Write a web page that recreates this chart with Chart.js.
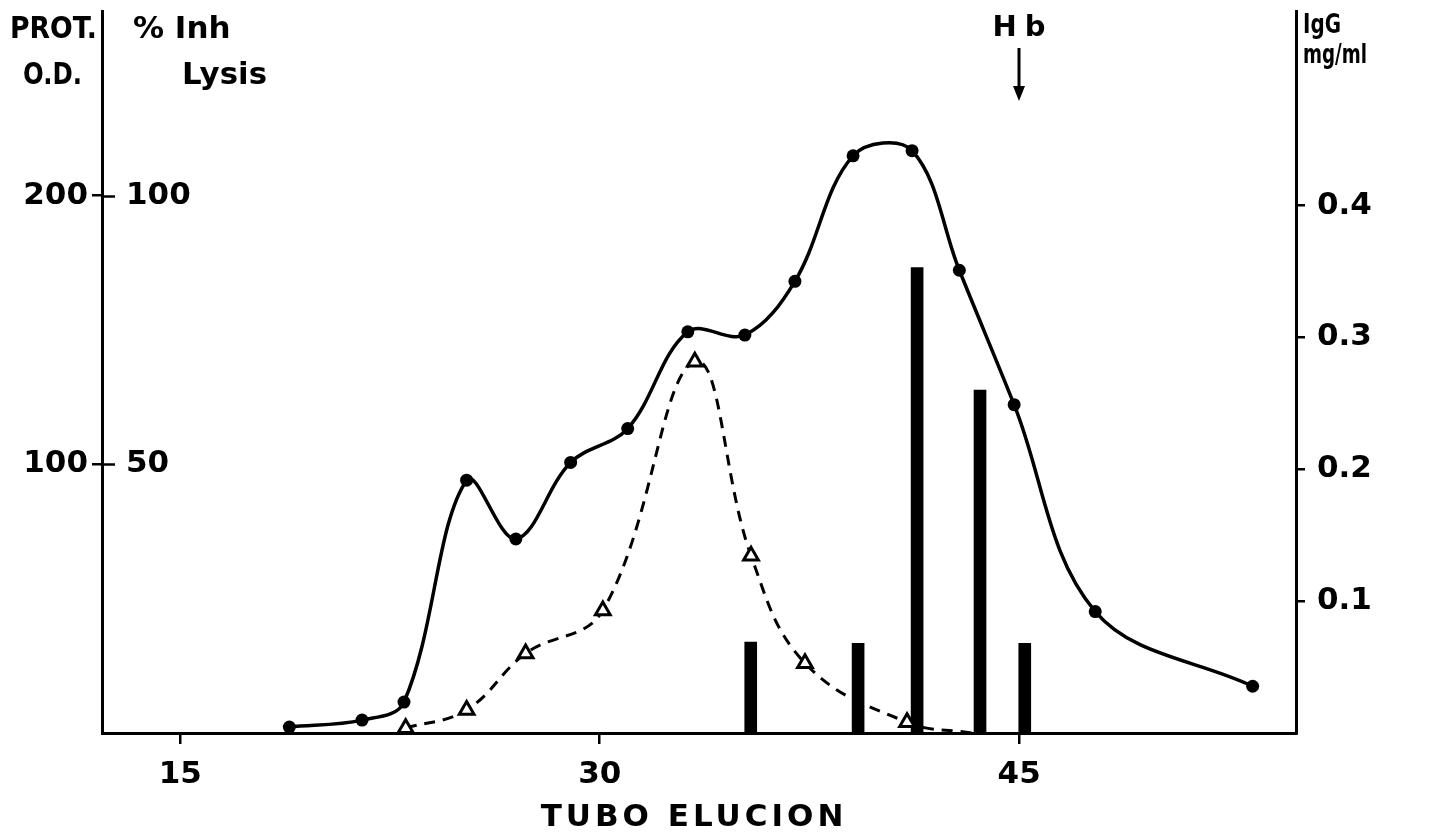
<!DOCTYPE html>
<html><head><meta charset="utf-8">
<script src="https://cdn.jsdelivr.net/npm/chart.js@4.4.1/dist/chart.umd.min.js"></script>
<style>html,body{margin:0;padding:0;background:#fff;}#wrap{width:1430px;height:833px;}</style>
</head><body><div id="wrap"><canvas id="c" width="1430" height="833"></canvas></div>
<script>
// ---- data ----
const protTubes = [18.9, 21.5, 23.0, 25.24, 27.0, 28.96, 31.0, 33.15, 35.19, 36.98, 39.06, 41.17, 42.86, 44.82, 47.72, 53.35];
const protOD    = [2.2, 4.8, 11.5, 94.1, 72.2, 100.7, 113.3, 149.3, 148.1, 168.1, 214.8, 216.7, 172.2, 122.2, 45.2, 17.4];
const inhTubes  = [23.06, 25.24, 27.35, 30.11, 33.4, 35.41, 37.34, 40.99, 43.3];
const inhLysis  = [0.9, 4.3, 14.8, 22.8, 69.1, 33.0, 13.0, 2.0, 0];
const inhMarker = [1, 1, 1, 1, 1, 1, 1, 1, 0];
const iggTubes  = [35.4, 39.24, 41.35, 43.6, 45.2];
const iggValues = [0.069, 0.068, 0.353, 0.260, 0.068];
const xTicks    = [15, 30, 45];
const protTicks = [100, 200];
const inhTicks  = [50, 100];
const iggTicks  = [0.1, 0.2, 0.3, 0.4];
const hbTube    = 45;

const FONT = "'DejaVu Sans', sans-serif";
const tickFont = {family: FONT, size: 31, weight: 'bold'};

function noPad(s) { s.paddingTop = 0; s.paddingBottom = 0; s.paddingLeft = 0; s.paddingRight = 0; }

const decor = {
  id: 'decor',
  afterDraw(chart) {
    const ctx = chart.ctx;
    const ca = chart.chartArea;
    const yInh = chart.scales.yInh;
    const x = chart.scales.x;
    ctx.save();
    ctx.strokeStyle = '#000';
    ctx.fillStyle = '#000';
    // inner halves of the left-axis ticks
    ctx.lineWidth = 2.5;
    inhTicks.forEach(v => {
      const y = Math.round(yInh.getPixelForValue(v)) + 0.5;
      ctx.beginPath(); ctx.moveTo(ca.left, y); ctx.lineTo(ca.left + 13, y); ctx.stroke();
    });
    // axis labels
    ctx.textBaseline = 'alphabetic';
    ctx.textAlign = 'left';
    ctx.font = "bold 31px " + FONT;
    ctx.fillText('PROT.', 10, 38, 87);
    ctx.fillText('O.D.', 23, 84, 59);
    ctx.fillText('% Inh', 133, 38, 107);
    ctx.fillText('Lysis', 182, 84, 85);
    ctx.font = "bold 27px " + FONT;
    ctx.fillText('IgG', 1303, 33, 38);
    ctx.fillText('mg/ml', 1303, 63, 64);
    // Hb arrow
    const hx = Math.round(x.getPixelForValue(hbTube));
    ctx.font = "bold 29px " + FONT;
    ctx.letterSpacing = '8px';
    ctx.textAlign = 'center';
    ctx.fillText('Hb', hx + 4, 36);
    ctx.letterSpacing = '0px';
    ctx.lineWidth = 3;
    ctx.beginPath(); ctx.moveTo(hx, 48); ctx.lineTo(hx, 90); ctx.stroke();
    ctx.beginPath(); ctx.moveTo(hx - 6, 86); ctx.lineTo(hx + 6, 86); ctx.lineTo(hx, 101); ctx.closePath(); ctx.fill();
    // x title
    ctx.font = "bold 31px " + FONT;
    ctx.letterSpacing = '4px';
    ctx.textAlign = 'center';
    ctx.fillText('TUBO ELUCION', 694, 826);
    ctx.restore();
  }
};

const tickGrid = {drawOnChartArea: false, drawTicks: true, color: '#000', lineWidth: 2.5, offset: false};

new Chart(document.getElementById('c'), {
  type: 'line',
  data: {
    datasets: [
      {
        label: 'PROT. O.D.',
        data: protTubes.map((t, i) => ({x: t, y: protOD[i]})),
        yAxisID: 'yProt', xAxisID: 'x',
        borderColor: '#000', borderWidth: 3.5, tension: 0.36,
        pointRadius: 6.5, pointBackgroundColor: '#000', pointBorderColor: '#000', pointBorderWidth: 0,
        fill: false, order: 0
      },
      {
        label: '% Inh Lysis',
        data: inhTubes.map((t, i) => ({x: t, y: inhLysis[i]})),
        yAxisID: 'yInh', xAxisID: 'x',
        borderColor: '#000', borderWidth: 3, borderDash: [11, 8], tension: 0.4,
        pointStyle: 'triangle', pointRadius: inhMarker.map(m => m ? 8.5 : 0),
        pointBackgroundColor: '#fff', pointBorderColor: '#000', pointBorderWidth: 3,
        fill: false, order: 0
      },
      {
        type: 'bar',
        label: 'IgG mg/ml',
        data: iggTubes.map((t, i) => ({x: t, y: iggValues[i]})),
        yAxisID: 'yIgG', xAxisID: 'x',
        backgroundColor: '#000', borderWidth: 0, barThickness: 12, grouped: false,
        order: 1
      }
    ]
  },
  options: {
    responsive: false, animation: false, devicePixelRatio: 1,
    layout: {padding: {top: 8, left: 0, right: 0, bottom: 0}},
    plugins: {legend: {display: false}, tooltip: {enabled: false}},
    scales: {
      x: {
        type: 'linear', position: 'bottom', min: 12.2, max: 54.9, offset: false,
        afterFit: s => { s.height = 100; noPad(s); },
        afterBuildTicks: s => { s.ticks = xTicks.map(v => ({value: v})); },
        ticks: {font: tickFont, color: '#000', padding: 12, maxRotation: 0, autoSkip: false, callback: v => String(v)},
        grid: Object.assign({}, tickGrid, {tickLength: 11}),
        border: {color: '#000', width: 3}
      },
      yProt: {
        type: 'linear', position: 'left', weight: 1, min: 0, max: 268.5,
        afterFit: s => { s.width = 102; noPad(s); },
        afterBuildTicks: s => { s.ticks = protTicks.map(v => ({value: v})); },
        ticks: {font: tickFont, color: '#000', padding: 4, callback: v => String(v)},
        grid: Object.assign({}, tickGrid, {tickLength: 10}),
        border: {color: '#000', width: 3}
      },
      yInh: {
        type: 'linear', position: 'left', weight: 0, min: 0, max: 134.25,
        afterFit: s => { s.width = 0; noPad(s); },
        afterBuildTicks: s => { s.ticks = inhTicks.map(v => ({value: v})); },
        ticks: {font: tickFont, color: '#000', mirror: true, padding: 24, callback: v => String(v)},
        grid: {display: false},
        border: {display: false}
      },
      yIgG: {
        type: 'linear', position: 'right', min: 0, max: 0.5472,
        afterFit: s => { s.width = 134; noPad(s); },
        afterBuildTicks: s => { s.ticks = iggTicks.map(v => ({value: v})); },
        ticks: {font: tickFont, color: '#000', padding: 12, callback: v => v.toFixed(1)},
        grid: Object.assign({}, tickGrid, {tickLength: 9}),
        border: {color: '#000', width: 3}
      }
    }
  },
  plugins: [decor]
});
</script>
</body></html>
